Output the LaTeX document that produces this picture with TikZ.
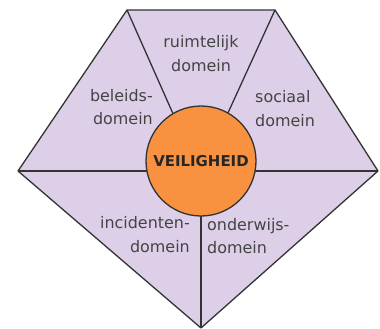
\documentclass[tikz,border=0pt]{standalone}
\usepackage{fontspec}
\setmainfont{DejaVu Sans}
\usepackage{tikz}

\definecolor{domeinpaars}{RGB}{221,207,232}
\definecolor{kernoranje}{RGB}{248,145,64}
\definecolor{lijngrijs}{RGB}{51,51,51}
\definecolor{tekstgrijs}{RGB}{68,68,68}

\begin{document}
\begin{tikzpicture}[x=1bp,y=-1bp,
  rand/.style={draw=lijngrijs,line width=1.3bp,line join=round},
  domein/.style={text=tekstgrijs,inner sep=0pt,font=\fontsize{16}{23.5}\selectfont}]

\useasboundingbox (0,0) rectangle (380,329);

% Corners of the pentagon
\coordinate (TopL) at (127,10);
\coordinate (TopR) at (275,10);
\coordinate (Right) at (378,171);
\coordinate (Bottom) at (201,328);
\coordinate (Left) at (18,171);

% Pentagon
\filldraw[rand,fill=domeinpaars] (TopL)--(TopR)--(Right)--(Bottom)--(Left)--cycle;

% Dividing lines (ending under the circle)
\draw[rand] (TopL)--(194,161);
\draw[rand] (TopR)--(206,161);
\draw[draw=lijngrijs,line width=2bp] (Left)--(Right);
\draw[rand] (201,161)--(Bottom);

% Centre circle
\node[circle,draw=lijngrijs,line width=1.3bp,fill=kernoranje,minimum size=110bp,inner sep=0pt,
  font=\fontsize{15}{18}\selectfont\bfseries,text=black!85] (veiligheid) at (201,161) {VEILIGHEID};

% Domains
\node[domein,align=center] (ruimtelijk) at (201,53.5) {ruimtelijk\\domein};
\node[domein,align=right,anchor=east] (beleid) at (153,107) {beleids-\\domein};
\node[domein,align=left,anchor=west] (sociaal) at (255,108.5) {sociaal\\domein};
\node[domein,align=right,anchor=east] (incidenten) at (190,234.5) {incidenten-\\domein};
\node[domein,align=left,anchor=west] (onderwijs) at (207,236) {onderwijs-\\domein};

\end{tikzpicture}
\end{document}
